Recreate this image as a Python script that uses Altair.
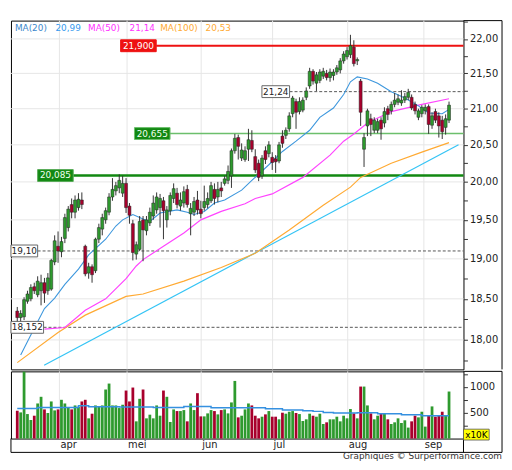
import altair as alt
import pandas as pd

# ---------------- data ----------------
opens = [18.35, 18.27, 18.28, 18.47, 18.50, 18.65, 18.55, 18.60, 18.70, 18.60,
         18.62, 18.96, 19.16, 19.09, 19.26, 19.40, 19.70, 19.60, 19.66, 19.76,
         19.16, 18.82, 18.90, 18.85, 19.25, 19.38, 19.50, 19.60, 19.80, 19.88,
         19.92, 19.85, 19.98, 19.68, 19.45, 19.06, 19.12, 19.50, 19.36, 19.46,
         19.55, 19.63, 19.66, 19.75, 19.50, 19.62, 19.78, 19.85, 19.68, 19.72,
         19.90, 19.58, 19.60, 19.76, 19.64, 19.66, 19.70, 19.75, 19.90, 19.80,
         19.92, 19.98, 20.02, 20.08, 20.42, 20.60, 20.32, 20.30, 20.44, 20.56,
         20.34, 20.25, 20.08, 20.42, 20.38, 20.33, 20.31, 20.28, 20.62, 20.63,
         20.72, 20.93, 21.10, 20.96, 20.98, 21.16, 21.32, 21.53, 21.36, 21.40,
         21.46, 21.50, 21.44, 21.47, 21.52, 21.55, 21.68, 21.74, 21.77, 21.88,
         21.68, 21.39, 20.44, 20.76, 20.86, 20.70, 20.70, 20.84, 20.80, 21.00,
         20.97, 21.06, 21.09, 21.08, 21.12, 21.16, 21.16, 21.06, 20.88, 20.93,
         20.97, 21.03, 20.77, 20.96, 20.90, 20.84, 20.74, 20.84]
highs = [18.40, 18.36, 18.52, 18.60, 18.68, 18.70, 18.78, 18.80, 18.76, 18.82,
         19.00, 19.30, 19.35, 19.28, 19.58, 19.68, 19.78, 19.82, 19.85, 19.86,
         19.18, 18.95, 18.93, 19.27, 19.45, 19.58, 19.66, 19.85, 20.05, 20.00,
         20.10, 20.08, 20.05, 19.72, 19.50, 19.22, 19.55, 19.55, 19.55, 19.66,
         19.82, 19.86, 19.84, 19.80, 19.68, 19.86, 19.98, 19.92, 19.86, 19.94,
         19.96, 19.72, 19.80, 19.88, 19.75, 19.95, 19.86, 20.00, 19.98, 20.00,
         20.00, 20.08, 20.22, 20.45, 20.65, 20.64, 20.52, 20.48, 20.72, 20.70,
         20.44, 20.30, 20.36, 20.48, 20.55, 20.40, 20.36, 20.54, 20.70, 20.74,
         20.95, 21.18, 21.14, 21.16, 21.16, 21.30, 21.58, 21.56, 21.52, 21.56,
         21.58, 21.55, 21.57, 21.56, 21.62, 21.72, 21.82, 21.88, 22.06, 21.98,
         21.73, 21.42, 20.66, 21.00, 20.93, 20.88, 20.86, 20.88, 21.02, 21.04,
         21.10, 21.22, 21.20, 21.26, 21.22, 21.28, 21.20, 21.10, 21.00, 21.05,
         21.06, 21.06, 20.95, 21.00, 20.95, 20.90, 20.92, 21.10]
lows = [18.15, 18.18, 18.24, 18.44, 18.47, 18.56, 18.52, 18.42, 18.45, 18.55,
        18.60, 18.92, 18.95, 19.02, 19.20, 19.35, 19.52, 19.52, 19.62, 19.64,
        18.78, 18.75, 18.70, 18.82, 19.20, 19.30, 19.45, 19.56, 19.75, 19.82,
        19.85, 19.80, 19.59, 19.45, 18.98, 18.99, 19.10, 18.97, 19.30, 19.42,
        19.50, 19.58, 19.40, 19.25, 19.40, 19.56, 19.72, 19.65, 19.62, 19.66,
        19.66, 19.30, 19.55, 19.57, 19.52, 19.62, 19.65, 19.72, 19.70, 19.73,
        19.80, 19.95, 19.97, 19.92, 20.38, 20.30, 20.28, 20.27, 20.28, 20.40,
        20.12, 20.01, 20.04, 20.24, 20.33, 20.16, 20.12, 20.25, 20.46, 20.58,
        20.68, 20.88, 20.72, 20.92, 20.95, 21.12, 21.28, 21.34, 21.25, 21.36,
        21.42, 21.40, 21.38, 21.40, 21.48, 21.50, 21.64, 21.70, 21.72, 21.60,
        21.62, 20.76, 20.20, 20.62, 20.62, 20.66, 20.66, 20.57, 20.74, 20.84,
        20.92, 21.02, 21.05, 21.04, 21.08, 21.12, 20.98, 20.92, 20.84, 20.88,
        20.92, 20.65, 20.72, 20.80, 20.60, 20.58, 20.64, 20.80]
closes = [18.27, 18.32, 18.49, 18.56, 18.64, 18.60, 18.72, 18.70, 18.57, 18.76,
          18.98, 19.23, 19.10, 19.22, 19.53, 19.64, 19.60, 19.76, 19.77, 19.70,
          18.81, 18.90, 18.80, 19.25, 19.40, 19.53, 19.62, 19.80, 19.90, 19.95,
          20.02, 19.98, 19.66, 19.56, 19.08, 19.18, 19.48, 19.37, 19.50, 19.60,
          19.72, 19.80, 19.78, 19.62, 19.63, 19.82, 19.91, 19.70, 19.76, 19.87,
          19.70, 19.65, 19.74, 19.63, 19.58, 19.74, 19.78, 19.95, 19.78, 19.90,
          19.88, 20.04, 20.14, 20.42, 20.59, 20.48, 20.43, 20.42, 20.57, 20.44,
          20.16, 20.06, 20.32, 20.30, 20.50, 20.26, 20.27, 20.50, 20.52, 20.70,
          20.90, 21.15, 20.95, 21.10, 21.12, 21.25, 21.53, 21.39, 21.48, 21.52,
          21.53, 21.44, 21.52, 21.52, 21.58, 21.68, 21.78, 21.83, 21.90, 21.64,
          21.70, 20.95, 20.60, 20.97, 20.78, 20.84, 20.82, 20.72, 20.96, 20.92,
          21.06, 21.12, 21.14, 21.12, 21.17, 21.23, 21.01, 20.97, 20.97, 21.02,
          21.02, 20.78, 20.90, 20.84, 20.76, 20.68, 20.86, 21.05]
volumes = [538, 506, 1295, 474, 359, 442, 679, 808, 564, 494,
           718, 545, 564, 750, 679, 609, 564, 641, 615, 718,
           750, 391, 481, 641, 615, 641, 949, 1064, 641, 641,
           590, 654, 929, 718, 987, 333, 769, 949, 391, 462,
           391, 641, 442, 929, 808, 321, 564, 532, 532, 551,
           333, 679, 551, 878, 429, 429, 487, 551, 532, 468,
           551, 564, 487, 699, 1115, 410, 442, 564, 679, 641,
           442, 391, 423, 468, 532, 423, 423, 372, 500, 481,
           519, 532, 494, 474, 340, 372, 481, 442, 423, 481,
           282, 314, 372, 372, 423, 333, 442, 391, 571, 487,
           391, 1006, 1006, 641, 487, 372, 442, 487, 487, 372,
           282, 314, 391, 301, 353, 212, 333, 442, 410, 519,
           231, 442, 622, 423, 442, 519, 442, 910]

ma20_i = [1, 5, 8, 11, 14, 18, 21, 26, 29, 31, 34, 37, 39, 42, 47, 50, 52, 55, 58, 61,
          66, 69, 74, 78, 82, 86, 89, 93, 96, 98, 100, 103, 106, 110, 114, 118, 121, 125, 127]
ma20_v = [17.82, 18.14, 18.38, 18.51, 18.68, 18.87, 19.05, 19.25, 19.42, 19.50,
          19.57, 19.51, 19.48, 19.59, 19.63, 19.60, 19.57, 19.61, 19.72, 19.76,
          19.89, 20.02, 20.23, 20.41, 20.55, 20.70, 20.88, 21.01, 21.20, 21.38,
          21.45, 21.42, 21.36, 21.24, 21.15, 21.04, 20.94, 20.93, 20.99]
ma50_i = [8, 14, 20, 26, 32, 35, 37, 43, 49, 54, 60, 67, 70, 75, 84, 92, 96, 99, 103, 110, 119, 127]
ma50_v = [18.13, 18.15, 18.36, 18.50, 18.75, 18.91, 18.99, 19.16, 19.33, 19.50, 19.61,
          19.71, 19.78, 19.84, 20.06, 20.36, 20.55, 20.65, 20.80, 20.96, 21.06, 21.14]
ma100_i = [0, 12, 20, 32, 37, 49, 60, 70, 80, 90, 98, 101, 110, 119, 127]
ma100_v = [17.73, 18.09, 18.30, 18.53, 18.56, 18.72, 18.89, 19.07, 19.37, 19.69,
           19.93, 20.06, 20.25, 20.40, 20.53]
trend_i = [7.9, 129.8]
trend_v = [17.70, 20.50]

volma_i = [0, 6, 18, 21, 30, 40, 49, 57, 66, 73, 78, 84, 87, 90, 93, 100, 106, 113, 119, 127]
volma_v = [583, 603, 635, 615, 610, 603, 622, 596, 596, 577, 551, 538, 526, 506, 494,
           500, 481, 462, 442, 442]

month_pos = [12.4, 32.3, 54.1, 75.1, 97.2, 119.6]
month_names = ["apr", "mei", "jun", "jul", "aug", "sep"]
price_grid = [18.0, 18.5, 19.0, 19.5, 20.0, 20.5, 21.0, 21.5, 22.0]
price_ticks = [17.75, 18.0, 18.25, 18.5, 18.75, 19.0, 19.25, 19.5, 19.75, 20.0,
               20.25, 20.5, 20.75, 21.0, 21.25, 21.5, 21.75, 22.0, 22.25]
vol_ticks = [250, 500, 750, 1000, 1250]
level_values = [21.9, 20.655, 20.085, 21.24, 19.10, 18.152]
level_labels = ["21,900", "20,655", "20,085", "21,24", "19,10", "18,152"]
legend_names = ["MA(20)", "MA(50)", "MA(100)"]
legend_values = ["20,99", "21,14", "20,53"]

# ---------------- layout / style ----------------
W = 458
FULL_W = 497
H_MAIN = 353
H_VOL = 68
BAND = 82
FONT = "DejaVu Sans"
UP, DOWN = "#2e9a2e", "#a8002c"
VUP, VDOWN = "#40c540", "#e0104a"

df = pd.DataFrame({"i": list(range(len(closes))), "open": opens, "high": highs,
                   "low": lows, "close": closes, "volume": volumes})
df["dir"] = ["up" if c >= o else "down" for o, c in zip(opens, closes)]

xscale = alt.Scale(domain=[-0.4, 129.8], nice=False, zero=False)
yscale = alt.Scale(type="log", domain=[17.65, 22.27], nice=False)
yaxis = alt.Axis(orient="right", values=price_ticks, title=None, tickSize=4,
                 labelPadding=2, domain=False, grid=False,
                 labelExpr="abs(datum.value*2 - round(datum.value*2)) < 0.001 ? "
                           "replace(format(datum.value, '.2f'), '.', ',') : ''")
vscale = alt.Scale(domain=[0, 1300], nice=False)
vaxis = alt.Axis(orient="right", values=vol_ticks, title=None, tickSize=4,
                 labelPadding=2, domain=False, grid=False,
                 labelExpr="(datum.value == 500 || datum.value == 1000) ? format(datum.value, 'd') : ''")


def X(f):
    return alt.X(f, type="quantitative", scale=xscale, axis=None)


def Y(f):
    return alt.Y(f, type="quantitative", scale=yscale, axis=yaxis)


def VY(f):
    return alt.Y(f, type="quantitative", scale=vscale, axis=vaxis)


one = pd.DataFrame({"k": [0]})


def box_shape(w, h):
    r = h / w
    return f"M-1,{-r}L1,{-r}L1,{r}L-1,{r}Z"


# ---------------- main panel ----------------
layers = []
layers.append(alt.Chart(pd.DataFrame({"p": price_grid})).mark_rule(color="#e6e6e6", strokeWidth=1)
              .encode(y=Y("p")))
layers.append(alt.Chart(pd.DataFrame({"m": month_pos})).mark_rule(color="#e6e6e6", strokeWidth=1)
              .encode(x=X("m")))

level_style = [
    dict(start=147, cx=129, w=36, color="#ee1111", width=2, dash=None, fill="#ee1111", stroke="#ee1111", tc="white"),
    dict(start=161, cx=143, w=36, color="#6cbf6c", width=1.5, dash=None, fill="#118811", stroke="#6cbf6c", tc="#f0fff0"),
    dict(start=63, cx=45, w=36, color="#118811", width=2.5, dash=None, fill="#118811", stroke="#55aa55", tc="#f0fff0"),
    dict(start=282, cx=268, w=28, color="#555555", width=1, dash=[3, 2], fill="white", stroke="#666666", tc="#222222"),
    dict(start=27, cx=13.5, w=27, color="#555555", width=1, dash=[3, 2], fill="white", stroke="#666666", tc="#222222"),
    dict(start=33, cx=16.5, w=33, color="#555555", width=1, dash=[3, 2], fill="white", stroke="#666666", tc="#222222"),
]
for v, lab, st in zip(level_values, level_labels, level_style):
    ldf = pd.DataFrame({"v": [v], "lab": [lab]})
    rk = dict(color=st["color"], strokeWidth=st["width"])
    if st["dash"]:
        rk["strokeDash"] = st["dash"]
    layers.append(alt.Chart(ldf).mark_rule(**rk)
                  .encode(y=Y("v"), x=alt.value(st["start"]), x2=alt.value(W)))

# moving averages & trend line
layers.append(alt.Chart(pd.DataFrame({"i": trend_i, "v": trend_v})).mark_line(color="#33c4f5", strokeWidth=1.2, clip=True)
              .encode(x=X("i"), y=Y("v")))
layers.append(alt.Chart(pd.DataFrame({"i": ma100_i, "v": ma100_v})).mark_line(color="#ffaa33", strokeWidth=1.2, clip=True)
              .encode(x=X("i"), y=Y("v")))
layers.append(alt.Chart(pd.DataFrame({"i": ma50_i, "v": ma50_v})).mark_line(color="#ff44ff", strokeWidth=1.2, clip=True)
              .encode(x=X("i"), y=Y("v")))
layers.append(alt.Chart(pd.DataFrame({"i": ma20_i, "v": ma20_v})).mark_line(color="#3d97dd", strokeWidth=1.1, clip=True)
              .encode(x=X("i"), y=Y("v")))

# candles
layers.append(alt.Chart(df).mark_rule(color="#333333", strokeWidth=1)
              .encode(x=X("i"), y=Y("low"), y2="high"))
layers.append(alt.Chart(df).mark_bar(size=3, stroke="#222222", strokeWidth=0.5)
              .encode(x=X("i"), y=Y("open"), y2="close",
                      color=alt.Color("dir:N", scale=alt.Scale(domain=["up", "down"], range=[UP, DOWN]), legend=None)))

# level label boxes
for v, lab, st in zip(level_values, level_labels, level_style):
    ldf = pd.DataFrame({"v": [v], "lab": [lab]})
    layers.append(alt.Chart(ldf).mark_point(shape=box_shape(st["w"], 12), size=st["w"] ** 2, filled=True,
                                            fill=st["fill"], stroke=st["stroke"], strokeWidth=1, opacity=1)
                  .encode(x=alt.value(st["cx"]), y=Y("v")))
    layers.append(alt.Chart(ldf).mark_text(font=FONT, fontSize=9, color=st["tc"], align="center", baseline="middle")
                  .encode(x=alt.value(st["cx"]), y=Y("v"), text="lab:N"))

# legend texts
leg_x = [4, 45, 78, 120, 151, 197]
leg_c = ["#3d88cc", "#3399ee", "#ff33ff", "#ff33ff", "#ffaa33", "#ffaa33"]
leg_t = [legend_names[0], legend_values[0], legend_names[1], legend_values[1], legend_names[2], legend_values[2]]
for px, c, t in zip(leg_x, leg_c, leg_t):
    layers.append(alt.Chart(pd.DataFrame({"t": [t]})).mark_text(font=FONT, fontSize=9, color=c, align="left", baseline="middle")
                  .encode(x=alt.value(px), y=alt.value(8), text="t:N"))

# outer frame pieces
layers.append(alt.Chart(one).mark_rule(color="#000000", strokeWidth=1)
              .encode(x=alt.value(W), x2=alt.value(FULL_W), y=alt.value(0)))
layers.append(alt.Chart(one).mark_rule(color="#000000", strokeWidth=1)
              .encode(x=alt.value(FULL_W), y=alt.value(0), y2=alt.value(H_MAIN)))

main = alt.layer(*layers).properties(width=W, height=H_MAIN)

# ---------------- volume panel ----------------
vl = []
vl.append(alt.Chart(pd.DataFrame({"m": month_pos})).mark_rule(color="#e6e6e6", strokeWidth=1)
          .encode(x=X("m")))
vl.append(alt.Chart(df).mark_bar(size=2.8)
          .encode(x=X("i"), y=VY("volume"),
                  color=alt.Color("dir:N", scale=alt.Scale(domain=["up", "down"], range=[VUP, VDOWN]), legend=None)))
vl.append(alt.Chart(pd.DataFrame({"i": volma_i, "v": volma_v})).mark_line(color="#3590e0", strokeWidth=1.5, interpolate="step-after")
          .encode(x=X("i"), y=VY("v")))
vl.append(alt.Chart(pd.DataFrame({"m": month_pos, "n": month_names})).mark_text(font=FONT, fontSize=10, color="#222222",
                                                                                 align="left", baseline="top", dx=1)
          .encode(x=X("m"), y=alt.value(H_VOL + 2), text="n:N"))
frame = [
    dict(x=W, x2=FULL_W, y=0),
    dict(x=FULL_W, y=0, y2=BAND),
    dict(x=0, x2=FULL_W, y=BAND),
    dict(x=0, y=H_VOL, y2=BAND),
    dict(x=W, y=H_VOL, y2=BAND),
]
for f in frame:
    enc = {k: alt.value(v) for k, v in f.items()}
    vl.append(alt.Chart(one).mark_rule(color="#000000", strokeWidth=1).encode(**enc))
vl.append(alt.Chart(one).mark_point(shape=box_shape(26, 11), size=26 ** 2, filled=True, fill="#ffff00",
                                    stroke="#555555", strokeWidth=0.8, opacity=1)
          .encode(x=alt.value(471), y=alt.value(H_VOL - 4)))
vl.append(alt.Chart(pd.DataFrame({"t": ["x10K"]})).mark_text(font=FONT, fontSize=9, color="#000000", align="center", baseline="middle")
          .encode(x=alt.value(471), y=alt.value(H_VOL - 4), text="t:N"))
vl.append(alt.Chart(pd.DataFrame({"t": ["Graphiques © Surperformance.com"]})).mark_text(font=FONT, fontSize=9, color="#333333",
                                                                                         align="right", baseline="bottom")
          .encode(x=alt.value(FULL_W), y=alt.value(BAND + 9), text="t:N"))

vol = alt.layer(*vl).properties(width=W, height=H_VOL)

chart = (alt.vconcat(main, vol, spacing=0)
         .properties(padding={"left": 0, "top": 9, "right": 1, "bottom": 0})
         .configure_view(stroke="#000000", strokeWidth=1)
         .configure_axis(labelFont=FONT, labelFontSize=10, labelColor="#222222", tickColor="#333333",
                         domain=False, grid=False))

chart.save("out.html", embed_options={"renderer": "svg", "actions": False})
